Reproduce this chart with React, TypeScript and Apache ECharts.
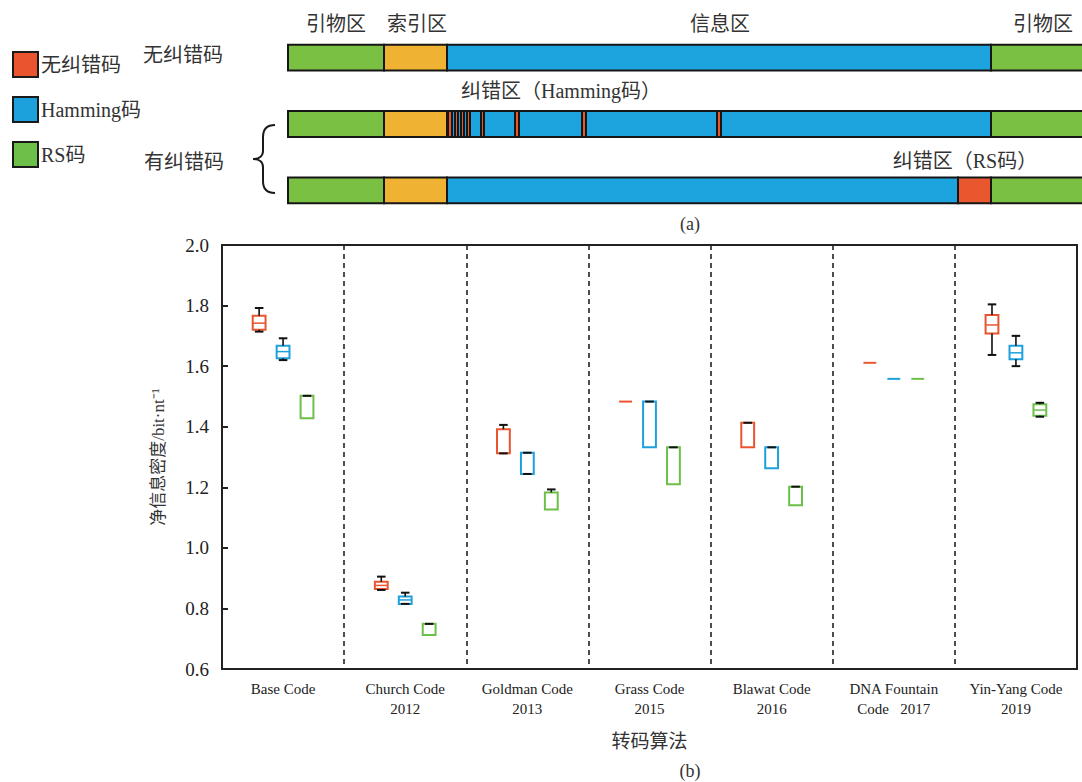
import React, { useEffect, useRef } from "react";
import * as echarts from "echarts";

// ---------- data ----------
const categories = [
  "Base Code",
  "Church Code\n2012",
  "Goldman Code\n2013",
  "Grass Code\n2015",
  "Blawat Code\n2016",
  "DNA Fountain\nCode   2017",
  "Yin-Yang Code\n2019",
];
const seriesNames = ["无纠错码", "Hamming码", "RS码"];
const seriesColors = ["#EA5530", "#1DA1DC", "#6CC04A"];

// [min, q1, median, q3, max]; null = not drawn
const noEccStats: (number | null)[][] = [
  [1.714, 1.72, 1.742, 1.766, 1.792],
  [0.861, 0.864, 0.876, 0.888, 0.905],
  [1.312, 1.312, null, 1.392, 1.406],
  [null, 1.483, null, 1.483, null],
  [null, 1.332, null, 1.413, 1.413],
  [null, 1.611, null, 1.611, null],
  [1.637, 1.708, 1.736, 1.769, 1.804],
];
const hammingStats: (number | null)[][] = [
  [1.62, 1.626, 1.648, 1.667, 1.692],
  [0.815, 0.815, 0.828, 0.839, 0.852],
  [1.244, 1.244, null, 1.314, 1.314],
  [null, 1.332, null, 1.483, 1.483],
  [null, 1.263, null, 1.332, 1.332],
  [null, 1.558, null, 1.558, null],
  [1.6, 1.623, 1.644, 1.667, 1.7],
];
const rsStats: (number | null)[][] = [
  [null, 1.428, null, 1.502, 1.502],
  [null, 0.712, null, 0.749, 0.749],
  [null, 1.127, null, 1.183, 1.193],
  [null, 1.21, null, 1.332, 1.332],
  [null, 1.141, null, 1.202, 1.202],
  [null, 1.558, null, 1.558, null],
  [1.433, 1.436, 1.455, 1.474, 1.479],
];
const yTicks = { min: 0.6, max: 2.0, interval: 0.2 };

// schematic (a): rows and segments [row, start, end, kind]
const schematicRows = ["无纠错码", "Hamming", "RS"];
const regionColors: Record<string, string> = {
  primer: "#7AC143",
  index: "#F0B232",
  info: "#1DA4DE",
  ecc: "#E8572E",
};
const schematicSegments: [number, number, number, string][] = [
  [0, 0, 96, "primer"],
  [0, 96, 159, "index"],
  [0, 159, 703, "info"],
  [0, 703, 800, "primer"],
  [1, 0, 96, "primer"],
  [1, 96, 159, "index"],
  [1, 159, 703, "info"],
  [1, 703, 800, "primer"],
  [1, 160, 164, "ecc"],
  [1, 167, 170, "ecc"],
  [1, 173, 176, "ecc"],
  [1, 179, 182, "ecc"],
  [1, 193, 196, "ecc"],
  [1, 227, 231, "ecc"],
  [1, 294, 298, "ecc"],
  [1, 429, 433, "ecc"],
  [2, 0, 96, "primer"],
  [2, 96, 159, "index"],
  [2, 159, 670, "info"],
  [2, 670, 703, "ecc"],
  [2, 703, 800, "primer"],
];

const SERIF = "'Liberation Serif', 'Times New Roman', 'Noto Sans CJK SC', serif";
const CJK = "'Noto Sans CJK SC', 'Liberation Serif', sans-serif";
const MIX = "'Liberation Serif', 'Noto Sans CJK SC', serif";

let braceRegistered = false;
function registerBrace() {
  if (braceRegistered) return;
  braceRegistered = true;
  const d =
    "M22,0 C14,0 10,4 10,12 L10,26 C10,31 6,34 0,34 C6,34 10,37 10,42 L10,56 C10,64 14,68 22,68";
  echarts.graphic.registerShape("brace", echarts.graphic.extendPath(d, {}) as any);
}

function makeBoxRenderer(stats: (number | null)[][], offsetFrac: number, color: string) {
  return (params: any, api: any) => {
    const d = stats[params.dataIndex];
    const cat = api.value(0);
    const band = api.size([1, 0])[0];
    const x = api.coord([cat, 1])[0] + offsetFrac * band;
    const Y = (v: number) => api.coord([cat, v])[1];
    const bw = band * 0.105;
    const cw = band * 0.07;
    const [mn, q1, md, q3, mx] = d as any;
    const children: any[] = [];
    if (q1 === q3) {
      children.push({
        type: "line",
        shape: { x1: x - bw / 2, y1: Y(q1), x2: x + bw / 2, y2: Y(q1) },
        style: { stroke: color, lineWidth: 2 },
      });
    } else {
      children.push({
        type: "rect",
        shape: { x: x - bw / 2, y: Y(q3), width: bw, height: Y(q1) - Y(q3) },
        style: { stroke: color, fill: "rgba(255,255,255,0)", lineWidth: 2 },
      });
    }
    if (md != null) {
      children.push({
        type: "line",
        shape: { x1: x - bw / 2, y1: Y(md), x2: x + bw / 2, y2: Y(md) },
        style: { stroke: color, lineWidth: 1.5 },
      });
    }
    if (mx != null) {
      if (mx !== q3)
        children.push({
          type: "line",
          shape: { x1: x, y1: Y(q3), x2: x, y2: Y(mx) },
          style: { stroke: "#111", lineWidth: 1.6 },
        });
      children.push({
        type: "line",
        shape: { x1: x - cw / 2, y1: Y(mx), x2: x + cw / 2, y2: Y(mx) },
        style: { stroke: "#111", lineWidth: 2 },
      });
    }
    if (mn != null) {
      if (mn !== q1)
        children.push({
          type: "line",
          shape: { x1: x, y1: Y(q1), x2: x, y2: Y(mn) },
          style: { stroke: "#111", lineWidth: 1.6 },
        });
      children.push({
        type: "line",
        shape: { x1: x - cw / 2, y1: Y(mn), x2: x + cw / 2, y2: Y(mn) },
        style: { stroke: "#111", lineWidth: 2 },
      });
    }
    return { type: "group", children };
  };
}

function schematicRenderer(params: any, api: any) {
  const seg = schematicSegments[params.dataIndex];
  const row = api.value(0);
  const p0 = api.coord([api.value(1), row]);
  const p1 = api.coord([api.value(2), row]);
  const h = api.size([0, 1])[1] * 0.39;
  return {
    type: "rect",
    shape: { x: p0[0], y: p0[1] - h / 2, width: p1[0] - p0[0], height: h },
    style: { fill: regionColors[seg[3]], stroke: "#161616", lineWidth: 2 },
  };
}

export default function App() {
  const ref = useRef<HTMLDivElement>(null);
  useEffect(() => {
    if (!ref.current) return;
    registerBrace();
    const chart = echarts.init(ref.current, undefined, { renderer: "svg" });
    const allStats = [noEccStats, hammingStats, rsStats];
    const offsets = [-0.196, 0, 0.196];

    const boxSeries = seriesNames.map((name, s) => ({
      name,
      type: "custom",
      xAxisIndex: 0,
      yAxisIndex: 0,
      itemStyle: { color: seriesColors[s] },
      encode: { x: 0, y: [1, 2] },
      data: allStats[s].map((d, i) => [i, d[1], d[3]]),
      renderItem: makeBoxRenderer(allStats[s], offsets[s], seriesColors[s]),
      z: 5,
    }));

    const textStyle = (size: number, family = CJK) => ({
      fill: "#333",
      font: `${size}px ${family}`,
      align: "center",
      verticalAlign: "middle",
    });
    const label = (text: string, x: number, y: number, size = 20, family = CJK) => ({
      type: "text",
      x,
      y,
      style: { text, ...textStyle(size, family) },
    });

    chart.setOption({
      animation: false,
      backgroundColor: "#fff",
      legend: {
        orient: "vertical",
        left: 7,
        top: 46,
        itemWidth: 25,
        itemHeight: 25,
        itemGap: 18,
        icon: "rect",
        selectedMode: false,
        textStyle: { fontSize: 20, fontFamily: MIX, color: "#333", padding: [0, 0, 0, -2] },
        data: seriesNames.map((n, i) => ({
          name: n,
          itemStyle: { color: seriesColors[i], borderColor: "#1a1a1a", borderWidth: 2 },
        })),
      },
      grid: [
        { left: 222, right: 5, top: 245, height: 424 },
        { left: 288, right: 0, top: 24.5, height: 199 },
      ],
      xAxis: [
        {
          type: "category",
          gridIndex: 0,
          data: categories,
          boundaryGap: true,
          axisLine: { lineStyle: { color: "#222", width: 2 } },
          axisTick: { show: false },
          axisLabel: {
            fontFamily: SERIF,
            fontSize: 15,
            color: "#222",
            margin: 10,
            lineHeight: 20,
            interval: 0,
          },
          splitLine: {
            show: true,
            interval: 0,
            lineStyle: { color: "#222", width: 1.6, type: [5, 4] },
          },
          name: "转码算法",
          nameLocation: "middle",
          nameGap: 61,
          nameTextStyle: { fontFamily: CJK, fontSize: 19, color: "#333" },
        },
        {
          type: "value",
          gridIndex: 0,
          position: "top",
          min: 0,
          max: 1,
          axisLine: { show: true, onZero: false, lineStyle: { color: "#222", width: 2 } },
          axisTick: { show: false },
          axisLabel: { show: false },
          splitLine: { show: false },
        },
        {
          type: "value",
          gridIndex: 1,
          min: 0,
          max: 794,
          show: false,
        },
      ],
      yAxis: [
        {
          type: "value",
          gridIndex: 0,
          min: yTicks.min,
          max: yTicks.max,
          interval: yTicks.interval,
          axisLine: { show: true, lineStyle: { color: "#222", width: 2 } },
          axisTick: { show: true, inside: true, length: 6, lineStyle: { color: "#222", width: 2 } },
          axisLabel: {
            fontFamily: SERIF,
            fontSize: 19,
            color: "#222",
            margin: 13,
            formatter: (v: number) => v.toFixed(1),
          },
          splitLine: { show: false },
          name: "净信息密度/bit·nt⁻¹",
          nameLocation: "middle",
          nameGap: 55,
          nameRotate: 90,
          nameTextStyle: { fontFamily: MIX, fontSize: 17, color: "#333" },
        },
        {
          type: "value",
          gridIndex: 0,
          position: "right",
          min: 0,
          max: 1,
          axisLine: { show: true, onZero: false, lineStyle: { color: "#222", width: 2 } },
          axisTick: { show: false },
          axisLabel: { show: false },
          splitLine: { show: false },
        },
        {
          type: "category",
          gridIndex: 1,
          data: schematicRows,
          inverse: true,
          show: false,
        },
      ],
      series: [
        ...boxSeries,
        {
          name: "schematic",
          type: "custom",
          xAxisIndex: 2,
          yAxisIndex: 2,
          encode: { x: [1, 2], y: 0 },
          data: schematicSegments.map((s) => [s[0], s[1], s[2]]),
          renderItem: schematicRenderer,
          z: 3,
        },
      ],
      graphic: [
        label("引物区", 336, 22),
        label("索引区", 417, 22),
        label("信息区", 720, 22),
        label("引物区", 1043, 22),
        label("无纠错码", 183, 53),
        label("有纠错码", 184, 160),
        label("纠错区（Hamming码）", 561, 91, 20, MIX),
        label("纠错区（RS码）", 965, 161, 20, MIX),
        label("(a)", 690, 224, 18, SERIF),
        label("(b)", 690, 771, 18, SERIF),
        {
          type: "brace",
          x: 253,
          y: 125,
          scaleX: 1,
          scaleY: 1,
          style: { stroke: "#1a1a1a", fill: null, lineWidth: 2 },
        },
      ],
    });
    return () => chart.dispose();
  }, []);
  return (
    <div
      ref={ref}
      style={{ position: "absolute", left: 0, top: 0, width: 1082, height: 782 }}
    />
  );
}
